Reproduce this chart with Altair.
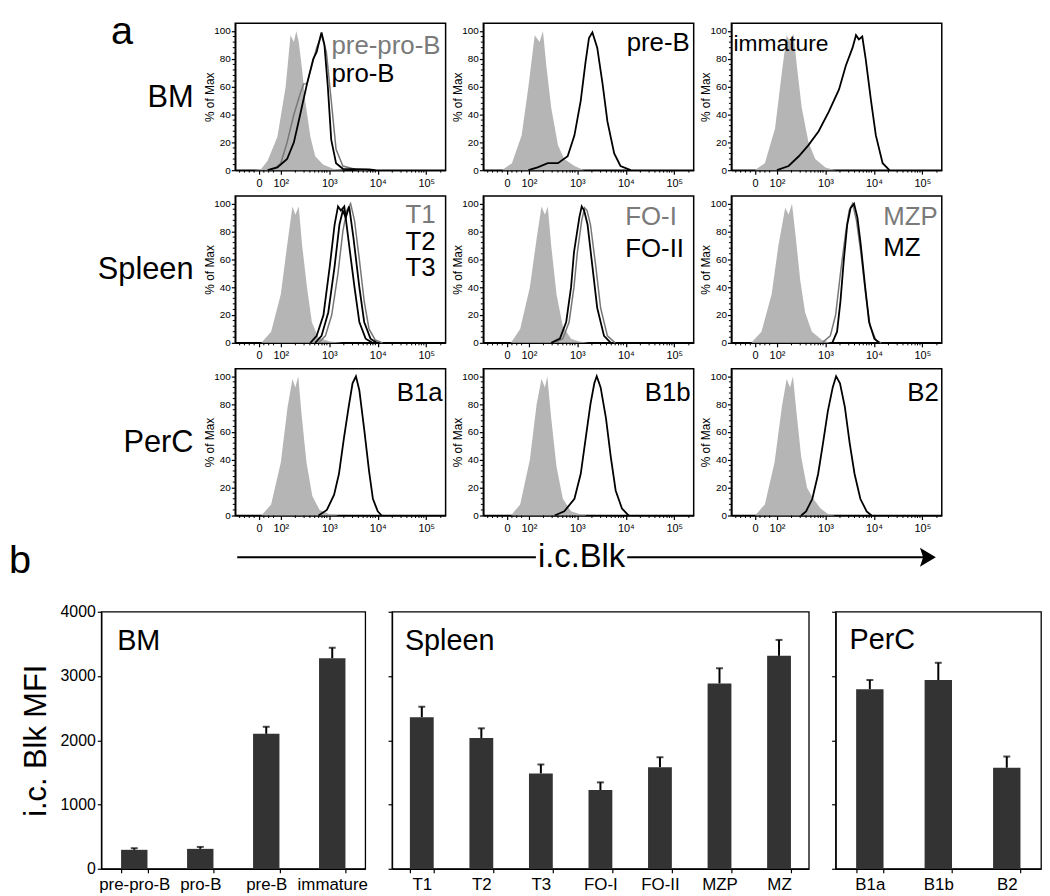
import altair as alt
import pandas as pd

FONT = "Liberation Sans"

# ---------------- histogram curves: (log10 i.c.Blk, % of Max) ----------------
bm_iso = [(1.45, 0), (1.60, 1), (1.73, 7), (1.93, 24), (2.10, 60), (2.20, 97), (2.27, 92), (2.32, 100),
          (2.37, 92), (2.44, 72), (2.51, 48), (2.61, 24), (2.71, 10), (2.87, 4), (3.08, 1), (3.30, 0)]
prepro_b = [(1.73, 0), (1.90, 2), (2.00, 5), (2.13, 20), (2.27, 40), (2.40, 55), (2.47, 62), (2.54, 62),
            (2.64, 75), (2.74, 88), (2.84, 97), (2.94, 85), (3.04, 50), (3.14, 15), (3.28, 3), (3.55, 0.5), (3.80, 0)]
pro_b = [(1.73, 0), (1.93, 2), (2.13, 8), (2.27, 20), (2.40, 40), (2.54, 62), (2.67, 80), (2.74, 85),
         (2.81, 95), (2.84, 99), (2.90, 90), (2.97, 60), (3.04, 22), (3.14, 5), (3.28, 1), (3.82, 0.5), (3.95, 0)]

preb_iso = [(1.44, 0), (1.65, 5), (1.85, 25), (1.99, 60), (2.12, 97), (2.22, 92), (2.29, 100), (2.36, 75),
            (2.46, 45), (2.60, 18), (2.73, 8), (2.94, 3), (3.14, 0)]
pre_b = [(1.99, 0), (2.18, 2), (2.39, 5), (2.60, 5), (2.80, 10), (2.94, 25), (3.07, 50), (3.17, 78),
         (3.24, 95), (3.31, 99), (3.41, 88), (3.52, 62), (3.62, 35), (3.76, 12), (3.89, 3), (4.10, 0)]

imm_iso = [(1.54, 0), (1.75, 5), (1.96, 30), (2.10, 70), (2.20, 97), (2.27, 92), (2.34, 98), (2.41, 75),
           (2.51, 45), (2.65, 20), (2.79, 8), (3.00, 2), (3.21, 0)]
immature = [(2.00, 0), (2.24, 3), (2.45, 10), (2.65, 18), (2.86, 28), (3.07, 42), (3.28, 58), (3.42, 75),
            (3.56, 88), (3.63, 97), (3.69, 94), (3.76, 96), (3.83, 80), (3.94, 50), (4.04, 25), (4.18, 5), (4.32, 0)]

t_iso = [(1.60, 0), (1.80, 8), (2.00, 35), (2.13, 70), (2.24, 98), (2.30, 92), (2.37, 98), (2.44, 70),
         (2.54, 40), (2.64, 15), (2.77, 4), (3.01, 1), (3.28, 0)]
t1 = [(2.78, 0), (2.92, 5), (3.05, 20), (3.18, 50), (3.28, 80), (3.36, 95), (3.44, 100), (3.52, 88),
      (3.62, 60), (3.72, 30), (3.82, 10), (3.95, 2), (4.10, 0)]
t2 = [(2.71, 0), (2.84, 5), (2.98, 22), (3.11, 55), (3.21, 85), (3.28, 95), (3.34, 90), (3.41, 98),
      (3.50, 75), (3.62, 40), (3.72, 15), (3.85, 3), (3.98, 0)]
t3 = [(2.61, 0), (2.74, 5), (2.88, 20), (3.01, 55), (3.11, 85), (3.18, 98), (3.24, 95), (3.31, 98),
      (3.41, 70), (3.52, 40), (3.62, 15), (3.75, 3), (3.89, 0)]

fo_iso = [(1.63, 0), (1.82, 10), (2.02, 40), (2.16, 75), (2.26, 98), (2.33, 92), (2.39, 98), (2.46, 70),
          (2.57, 35), (2.70, 12), (2.87, 3), (3.04, 1), (3.24, 0)]
fo1 = [(2.52, 0), (2.70, 3), (2.83, 15), (2.93, 40), (3.00, 65), (3.09, 88), (3.15, 97), (3.20, 95),
       (3.27, 85), (3.38, 55), (3.48, 25), (3.62, 5), (3.78, 0)]
fo2 = [(2.46, 0), (2.64, 3), (2.77, 15), (2.87, 40), (2.93, 65), (3.04, 90), (3.09, 98), (3.14, 95),
       (3.21, 85), (3.31, 55), (3.41, 25), (3.55, 5), (3.69, 0)]

mz_iso = [(1.47, 0), (1.68, 8), (1.89, 35), (2.03, 70), (2.17, 97), (2.24, 92), (2.31, 100), (2.375, 80),
          (2.48, 45), (2.58, 22), (2.72, 8), (2.93, 2), (3.10, 0)]
mzp = [(2.93, 0), (3.10, 5), (3.21, 20), (3.31, 50), (3.42, 80), (3.49, 95), (3.56, 100), (3.64, 88),
       (3.73, 65), (3.83, 35), (3.92, 12), (4.04, 2), (4.15, 0)]
mz = [(3.14, 0), (3.24, 8), (3.31, 30), (3.38, 60), (3.45, 85), (3.52, 97), (3.59, 100), (3.66, 90),
      (3.73, 70), (3.82, 40), (3.90, 15), (4.01, 3), (4.11, 0)]

b1a_iso = [(1.60, 0), (1.80, 8), (2.00, 38), (2.14, 78), (2.24, 98), (2.30, 92), (2.36, 100), (2.43, 72),
           (2.53, 38), (2.65, 14), (2.80, 4), (3.00, 1), (3.20, 0)]
b1a = [(2.78, 0), (2.95, 4), (3.10, 15), (3.20, 30), (3.30, 55), (3.40, 78), (3.48, 95), (3.55, 100),
       (3.62, 90), (3.72, 62), (3.82, 32), (3.90, 12), (4.00, 3), (4.08, 0)]
b1b_iso = [(1.63, 0), (1.82, 8), (2.02, 40), (2.16, 80), (2.26, 98), (2.33, 92), (2.38, 100), (2.46, 70),
           (2.57, 35), (2.70, 12), (2.87, 3), (3.04, 1), (3.20, 0)]
b1b = [(2.53, 0), (2.73, 3), (2.94, 12), (3.07, 30), (3.17, 55), (3.27, 80), (3.35, 95), (3.40, 100),
       (3.48, 92), (3.59, 70), (3.69, 42), (3.79, 18), (3.92, 5), (4.06, 0)]
b2_iso = [(1.55, 0), (1.75, 8), (1.95, 38), (2.10, 78), (2.20, 98), (2.27, 92), (2.33, 100), (2.40, 75),
          (2.50, 42), (2.62, 20), (2.75, 12), (2.90, 5), (3.05, 1), (3.20, 0)]
b2 = [(2.50, 0), (2.60, 3), (2.73, 12), (2.85, 30), (2.95, 52), (3.05, 75), (3.15, 92), (3.22, 100),
      (3.30, 95), (3.40, 78), (3.50, 52), (3.60, 30), (3.72, 12), (3.85, 3), (3.95, 0)]

HIST_TICKS = [1.55, 2, 3, 4, 5]
HIST_TICK_LABELS = ["0", "10²", "10³", "10⁴", "10⁵"]
HIST_YTICKS = [0, 20, 40, 60, 80, 100]
HIST_MINOR_X = [1.15, 1.25, 1.35, 1.45, 1.65, 1.75, 1.85,
                2.30, 2.48, 2.60, 2.70, 2.78, 2.85, 2.90, 2.95,
                3.30, 3.48, 3.60, 3.70, 3.78, 3.85, 3.90, 3.95,
                4.30, 4.48, 4.60, 4.70, 4.78, 4.85, 4.90, 4.95, 5.30]
HIST_MINOR_Y = [4, 8, 12, 16, 24, 28, 32, 36, 44, 48, 52, 56, 64, 68, 72, 76, 84, 88, 92, 96]

# ---------------- bar data ----------------
bm_cats = ["pre-pro-B", "pro-B", "pre-B", "immature"]
bm_mfi = [295, 310, 2100, 3275]
bm_sem = [25, 30, 110, 165]
spl_cats = ["T1", "T2", "T3", "FO-I", "FO-II", "MZP", "MZ"]
spl_mfi = [2357, 2036, 1483, 1225, 1581, 2884, 3314]
spl_sem = [165, 150, 140, 120, 155, 237, 248]
per_cats = ["B1a", "B1b", "B2"]
per_mfi = [2794, 2938, 1572]
per_sem = [144, 268, 175]
BAR_TICKS = list(range(0, 4001, 500))

GRAY_FILL = "#b5b5b5"
GRAY_LINE = "#777777"
GRAY_TEXT = "#7a7a7a"
BAR_COLOR = "#333333"

HW, HH = 212, 148
label_expr = " : ".join(f"datum.value == {v} ? '{l}'" for v, l in zip(HIST_TICKS, HIST_TICK_LABELS)) + " : ''"


def pts_df(pts):
    return pd.DataFrame({"x": [p[0] for p in pts], "y": [p[1] for p in pts]})


def ann(text, x, y, size, color="black", align="left", baseline="alphabetic"):
    return alt.Chart(pd.DataFrame({"t": [text]})).mark_text(
        align=align, baseline=baseline, fontSize=size, font=FONT, color=color
    ).encode(text="t:N", x=alt.value(x), y=alt.value(y))


def histo(iso, lines, labels):
    xenc = alt.X("x:Q", scale=alt.Scale(domain=[1.06, 5.4], nice=False, zero=False),
                 axis=alt.Axis(values=HIST_TICKS, labelExpr=label_expr, title=None, grid=False,
                               tickSize=4, labelFontSize=11, labelPadding=3, labelFont=FONT,
                               domainColor="black", tickColor="black", labelColor="black",
                               domainWidth=1.5, tickWidth=1.2))
    yenc = alt.Y("y:Q", scale=alt.Scale(domain=[0, 105.5], nice=False),
                 axis=alt.Axis(values=HIST_YTICKS, title="% of Max", grid=False, tickSize=4,
                               labelFontSize=10, labelPadding=1, labelFont=FONT, titleFont=FONT,
                               titleFontSize=12, titleFontWeight="normal", titlePadding=-3,
                               titleColor="black", domainColor="black", tickColor="black",
                               labelColor="black", domainWidth=1.5, tickWidth=1.2))
    layers = [alt.Chart(pts_df(iso)).mark_area(color=GRAY_FILL, opacity=1).encode(x=xenc, y=yenc)]
    for pts, color, w in lines:
        layers.append(alt.Chart(pts_df(pts)).mark_line(color=color, strokeWidth=w).encode(x=xenc, y=yenc))
    for text, color, x, y, align, size in labels:
        layers.append(ann(text, x, y, size, color, align))
    # minor ticks
    layers.append(alt.Chart(pd.DataFrame({"x": HIST_MINOR_X})).mark_rule(color="black", strokeWidth=1).encode(
        x=xenc, y=alt.value(HH), y2=alt.value(HH + 2.5)))
    layers.append(alt.Chart(pd.DataFrame({"y": HIST_MINOR_Y})).mark_rule(color="black", strokeWidth=1).encode(
        y=yenc, x=alt.value(0), x2=alt.value(-2.5)))
    return alt.layer(*layers).properties(
        width=HW, height=HH, view=alt.ViewBackground(stroke="black", strokeWidth=1.5))


def spacer(label, extra=None):
    layers = [ann(label, 93, 75, 31, align="right", baseline="middle")]
    if extra is not None:
        layers.append(extra)
    return alt.layer(*layers).properties(width=97, height=HH,
                                         view=alt.ViewBackground(stroke="transparent"))


BLK, GRY = "black", GRAY_LINE

h_bm1 = histo(bm_iso, [(prepro_b, GRY, 1.5), (pro_b, BLK, 1.8)],
              [("pre-pro-B", GRAY_TEXT, 97, 31, "left", 26), ("pro-B", "black", 97, 59, "left", 26)])
h_bm2 = histo(preb_iso, [(pre_b, BLK, 1.8)], [("pre-B", "black", 208, 28, "right", 26)])
h_bm3 = histo(imm_iso, [(immature, BLK, 1.8)], [("immature", "black", 2, 28, "left", 23)])

h_sp1 = histo(t_iso, [(t1, GRY, 1.5), (t2, BLK, 1.8), (t3, BLK, 1.8)],
              [("T1", GRAY_TEXT, 202, 27, "right", 26), ("T2", "black", 202, 54, "right", 26),
               ("T3", "black", 202, 81, "right", 26)])
h_sp2 = histo(fo_iso, [(fo1, GRY, 1.5), (fo2, BLK, 1.8)],
              [("FO-I", GRAY_TEXT, 143, 29, "left", 26), ("FO-II", "black", 143, 61, "left", 26)])
h_sp3 = histo(mz_iso, [(mzp, GRY, 1.5), (mz, BLK, 1.8)],
              [("MZP", GRAY_TEXT, 153, 29, "left", 26), ("MZ", "black", 153, 60, "left", 26)])

h_pc1 = histo(b1a_iso, [(b1a, BLK, 1.8)], [("B1a", "black", 209, 33, "right", 26)])
h_pc2 = histo(b1b_iso, [(b1b, BLK, 1.8)], [("B1b", "black", 209, 33, "right", 26)])
h_pc3 = histo(b2_iso, [(b2, BLK, 1.8)], [("B2", "black", 209, 33, "right", 26)])

row1 = alt.hconcat(spacer("BM", ann("a", 21, -11, 40, align="center", baseline="top")),
                   h_bm1, h_bm2, h_bm3, spacing=38, bounds="flush")
row2 = alt.hconcat(spacer("Spleen"), h_sp1, h_sp2, h_sp3, spacing=38, bounds="flush")
row3 = alt.hconcat(spacer("PerC"), h_pc1, h_pc2, h_pc3, spacing=38, bounds="flush")
histo_block = alt.vconcat(row1, row2, row3, spacing=6)


# ---------------- bar charts ----------------
def bar_panel(cats, vals, sems, width, title, tx, ty, first=False):
    df = pd.DataFrame({"cat": cats, "v": vals, "hi": [v + s for v, s in zip(vals, sems)]})
    xenc = alt.X("cat:N", sort=cats,
                 scale=alt.Scale(paddingInner=0.6, paddingOuter=0.3),
                 axis=alt.Axis(title=None, labelAngle=0, tickBand="extent", tickSize=4,
                               labelFontSize=17, labelFont=FONT, labelPadding=4, labelColor="black",
                               domainColor="black", tickColor="black", domainWidth=1.3,
                               tickWidth=1.2))
    if first:
        yaxis = alt.Axis(values=BAR_TICKS, format="d", title="i.c. Blk MFI", grid=False, tickSize=4,
                         labelFontSize=16, labelFont=FONT, labelPadding=2, labelColor="black",
                         titleFont=FONT, titleFontSize=31, titleFontWeight="normal",
                         titleColor="black", titlePadding=8, domainColor="black",
                         tickColor="black", domainWidth=1.3, tickWidth=1.2)
    else:
        yaxis = alt.Axis(values=BAR_TICKS, title=None, labels=False, grid=False, tickSize=4,
                         domainColor="black", tickColor="black", domainWidth=1.3, tickWidth=1.2)
    yenc = alt.Y("v:Q", scale=alt.Scale(domain=[0, 4000], nice=False), axis=yaxis)
    base = alt.Chart(df)
    layers = [
        base.mark_rule(color="black", strokeWidth=2).encode(x=xenc, y=yenc, y2="hi:Q"),
        base.mark_tick(color="black", thickness=2, size=7).encode(x=xenc, y=alt.Y("hi:Q")),
        base.mark_bar(color=BAR_COLOR).encode(x=xenc, y=yenc),
        ann(title, tx, ty, 29),
    ]
    if first:
        one = pd.DataFrame({"t": ["i.c.Blk"]})
        ay = -55
        layers += [
            ann("b", -93, -39, 40),
            alt.Chart(one).mark_rule(color="black", strokeWidth=2).encode(
                x=alt.value(137), x2=alt.value(438), y=alt.value(ay)),
            alt.Chart(one).mark_rule(color="black", strokeWidth=2).encode(
                x=alt.value(530), x2=alt.value(836), y=alt.value(ay)),
            alt.Chart(one).mark_point(shape="M 0 0 L -1 -0.6 L -0.8 0 L -1 0.6 Z", filled=True,
                                      color="black", opacity=1, size=1024).encode(
                x=alt.value(841), y=alt.value(ay)),
            alt.Chart(one).mark_text(fontSize=33, font=FONT, align="center", baseline="middle").encode(
                text="t:N", x=alt.value(484), y=alt.value(ay)),
        ]
    return alt.layer(*layers).properties(
        width=width, height=259, view=alt.ViewBackground(stroke="black", strokeWidth=1.3))


bar_row = alt.hconcat(
    bar_panel(bm_cats, bm_mfi, bm_sem, 266, "BM", 16, 39, first=True),
    bar_panel(spl_cats, spl_mfi, spl_sem, 420, "Spleen", 13, 39),
    bar_panel(per_cats, per_mfi, per_sem, 207, "PerC", 14, 38),
    spacing=27, bounds="flush")

chart = alt.vconcat(histo_block, bar_row, spacing=6).properties(
    padding=0, background="white"
).configure(font=FONT).configure_axis(grid=False)

chart.save("out.html", embed_options={"renderer": "svg", "actions": False})
